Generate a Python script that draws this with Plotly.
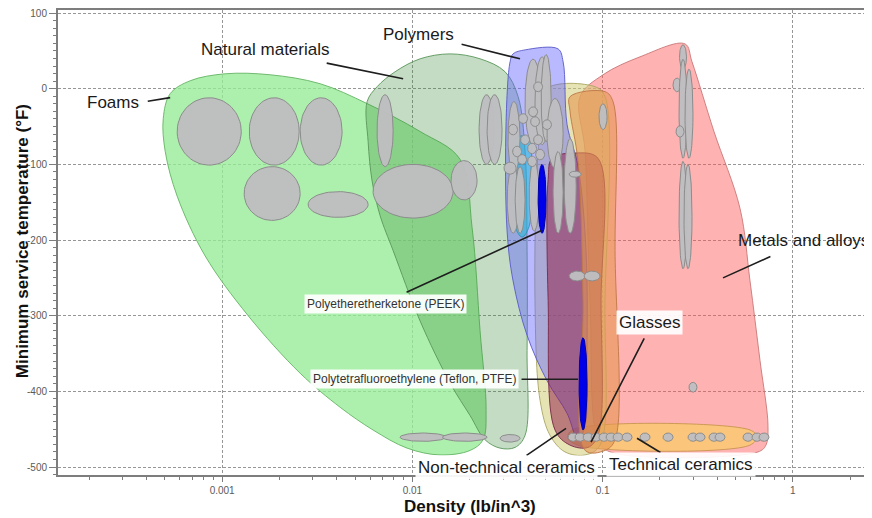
import numpy as np
import plotly.graph_objects as go

# ---------------- DATA (density in lb/in^3, temperature in °F) ----------------
# Family envelopes: outline points (density, min service temperature)
env_foams_d = [4.90e-4, 5.33e-4, 6.79e-4, 1.037e-3, 1.787e-3, 3.27e-3, 5.78e-3, 1.098e-2, 1.781e-2,
               2.06e-2, 2.268e-2, 2.44e-2, 2.352e-2, 2.011e-2, 1.398e-2, 9.38e-3, 6.21e-3, 4.17e-3,
               2.57e-3, 1.37e-3, 8.14e-4, 5.80e-4, 5.02e-4]
env_foams_t = [-39.5, -6.6, 10.5, 19.7, 18.4, 6.6, -19.7, -56.6, -93.4, -184, -320, -425, -464, -478,
               -484, -475, -451, -421, -376, -300, -221, -142, -83]

env_natural_d = [5.85e-3, 6.14e-3, 6.77e-3, 7.92e-3, 1.098e-2, 1.578e-2, 2.011e-2, 2.41e-2, 2.89e-2,
                 3.465e-2, 3.912e-2, 4.007e-2, 4.007e-2, 3.912e-2, 3.594e-2, 3.07e-2, 2.268e-2,
                 1.578e-2, 1.098e-2, 8.11e-3, 6.52e-3, 5.78e-3]
env_natural_t = [-69.7, -122, -168, -214, -307, -389, -432, -464, -475, -474, -458, -346, -214, -83,
                 -10.5, 22.4, 39.5, 46, 39.5, 22.4, 2.6, -17.1]

env_metals_d = [8.09e-2, 7.61e-2, 1.005e-1, 1.572e-1, 2.71e-1, 2.95e-1, 3.849e-1, 5.272e-1, 5.953e-1,
                6.717e-1, 7.399e-1, 7.222e-1, 6.557e-1, 1.094e-1, 9.46e-2, 8.59e-2]
env_metals_t = [-83, -10.5, 18.4, 42.1, 59.2, 35.5, -56.6, -158, -254, -359, -445, -471, -480, -480,
                -464, -280]

env_techcer_d = [6.91e-2, 5.953e-1, 6.478e-1, 5.953e-1, 7.61e-2, 6.58e-2]
env_techcer_t = [-451, -451, -460, -471, -472, -462]

env_nontech_d = [4.58e-2, 4.98e-2, 9.12e-2, 1.029e-1, 1.029e-1, 9.69e-2, 8.09e-2, 6.34e-2, 5.29e-2,
                 4.69e-2, 4.41e-2]
env_nontech_t = [-83, -1.3, 2.6, -10.5, -280, -471, -484, -480, -458, -412, -280]

env_polymers_d = [3.108e-2, 3.262e-2, 3.382e-2, 3.912e-2, 5.831e-2, 6.20e-2, 6.502e-2, 7.424e-2,
                  8.18e-2, 8.279e-2, 8.09e-2, 7.424e-2, 6.502e-2, 5.103e-2, 4.007e-2, 3.382e-2,
                  3.146e-2]
env_polymers_t = [-43.4, 35.5, 46, 51.3, 52.6, 35.5, -47.4, -102.6, -214, -346, -445, -464, -429,
                  -386, -326, -254, -188]

env_elast_d = [3.40e-2, 3.50e-2, 4.10e-2, 4.206e-2, 4.107e-2, 3.771e-2, 3.465e-2]
env_elast_t = [-110, -65, -65, -110, -182, -196, -182]

env_compos_d = [5.17e-2, 5.42e-2, 7.16e-2, 9.46e-2, 9.81e-2, 9.46e-2, 8.38e-2, 6.74e-2, 5.62e-2, 5.17e-2]
env_compos_t = [-120, -92, -85, -92, -280, -458, -474, -471, -451, -280]

env_glass_d = [6.74e-2, 1.029e-1, 1.134e-1, 1.162e-1, 1.162e-1, 1.029e-1, 8.09e-2, 7.89e-2, 7.424e-2, 6.74e-2]
env_glass_t = [-10.5, -3.9, -17, -214, -464, -478, -478, -280, -96, -30]

# Material bubbles: density range and temperature range
bub_dens_lo = [5.8e-4, 1.387e-3, 1.305e-3, 2.57e-3, 2.83e-3, 8.61e-3, 1.44e-2,            # foams
               6.52e-3, 6.21e-3, 1.597e-2, 2.241e-2, 2.47e-2, 2.89e-2,                    # natural
               0.0391, 0.0441, 0.0475, 0.0318, 0.0510, 0.0628, 0.0315, 0.0347, 0.0411,    # polymers
               0.0549, 0.0667, 0.0303, 0.0667, 0.0800,
               0.03617, 0.04082, 0.04182, 0.04829, 0.03202, 0.03705, 0.04337, 0.03362,
               0.04033, 0.04443, 0.03573, 0.04033, 0.04337,
               0.2536, 0.2344, 0.2521, 0.2710, 0.2521, 0.2677, 0.2431, 0.2844, 0.0957,    # metals
               0.0658, 0.0716, 0.0789, 0.0869, 0.0957, 0.1042, 0.1134, 0.1265, 0.1572,    # ceramics
               0.2077, 0.2810, 0.3059, 0.3623, 0.3897, 0.5468, 0.6097, 0.6636]
bub_dens_hi = [1.26e-3, 2.54e-3, 2.57e-3, 4.27e-3, 5.85e-3, 1.50e-2, 2.47e-2,
               7.92e-3, 1.637e-2, 2.188e-2, 2.687e-2, 2.96e-2, 3.68e-2,
               0.0475, 0.0523, 0.0536, 0.0368, 0.0620, 0.0726, 0.0364, 0.0391, 0.0464,
               0.0620, 0.0771, 0.0351, 0.0809, 0.0969,
               0.04033, 0.04552, 0.04663, 0.05385, 0.03570, 0.04131, 0.04836, 0.03749,
               0.04497, 0.04955, 0.03984, 0.04497, 0.04836,
               0.2760, 0.2582, 0.2777, 0.2985, 0.2777, 0.2950, 0.2677, 0.3133, 0.1055,
               0.0743, 0.0808, 0.0890, 0.0981, 0.1080, 0.1176, 0.1280, 0.1428, 0.1774,
               0.2345, 0.3171, 0.3453, 0.4089, 0.4398, 0.6171, 0.6882, 0.7490]
bub_temp_lo = [-101, -101, -174, -101, -170, -466, -466,
               -103, -171, -147, -100, -100, -467,
               -74, -74, -70, -113, -105, -191, -191, -191, -188,
               -191, -117, -113, -254, -254,
               -46, -37, -50, -54, -61, -74, -74, -90, -86, -94, -100, -103, -4,
               26, -4, -92, -92, -238, -238, -64, -401, -54,
               -466, -466, -466, -466, -466, -466, -466, -466, -466,
               -466, -466, -466, -466, -466, -466, -466, -466]
bub_temp_hi = [-12, -12, -103, -12, -136, -455, -455,
               -8, -100, -95, -8, -8, -457,
               39, 42, 45, -17, -13, -66, -103, -103, -96,
               -83, -109, -97, -241, -241,
               -33, -24, -37, -41, -47, -61, -61, -76, -72, -80, -87, -89, 9,
               58, 14, 39, 26, -96, -100, -49, -388, -20,
               -455, -455, -455, -455, -455, -455, -455, -455, -455,
               -455, -455, -455, -455, -455, -455, -455, -455]

# Highlighted materials
hl_names = ["Polyetheretherketone (PEEK)", "Polytetrafluoroethylene (Teflon, PTFE)"]
hl_dens_lo = [0.0458, 0.0752]
hl_dens_hi = [0.0504, 0.0828]
hl_temp_lo = [-191, -451]
hl_temp_hi = [-100, -329]

# Labels: text, label anchor (density, temp), leader tail and head (density, temp)
lab_text = ["Foams", "Natural materials", "Polymers", "Metals and alloys",
            "Polyetheretherketone (PEEK)", "Polytetrafluoroethylene (Teflon, PTFE)",
            "Glasses", "Non-technical ceramics", "Technical ceramics"]
lab_d = [2.67e-4, 1.683e-3, 1.072e-2, 1.144, 7.19e-3, 1.021e-2, 0.1774, 0.03108, 0.2582]
lab_t = [-18.4, 51.3, 71, -201, -284, -383, -309, -501, -497]
lead_d0 = [3.99e-4, 3.48e-3, 1.781e-2, 0.776, 9.15e-3, 0.0368, 0.1670, 0.0391, 0.2051]
lead_t0 = [-17, 34.2, 59.2, -221, -270, -384, -328, -486, -482]
lead_d1 = [5.33e-4, 8.94e-3, 0.0368, 0.4293, 0.04804, 0.07424, 0.0869, 0.0642, 0.1516]
lead_t1 = [-11.8, 13.2, 39.5, -250, -187, -384, -467, -449, -462]

x_tick_vals = [0.001, 0.01, 0.1, 1]
x_tick_text = ["0.001", "0.01", "0.1", "1"]
y_tick_vals = [100, 0, -100, -200, -300, -400, -500]
y_tick_text = ["100", "0", "-100", "-200", "-300", "-400", "-500"]

# ---------------- FIGURE ----------------
FONT = "Liberation Sans, Arial, sans-serif"
fig = go.Figure()


def add_env(d, t, fill, line):
    fig.add_trace(go.Scatter(x=list(d) + [d[0]], y=list(t) + [t[0]], mode="lines",
                             line=dict(color=line, width=1, shape="spline", smoothing=1.0),
                             fill="toself", fillcolor=fill, hoverinfo="skip", showlegend=False))


add_env(env_foams_d, env_foams_t, "rgba(150,236,150,0.78)", "rgba(100,180,100,0.9)")
add_env(env_natural_d, env_natural_t, "rgba(55,138,55,0.30)", "rgba(90,150,90,0.9)")
add_env(env_metals_d, env_metals_t, "rgba(255,84,84,0.45)", "rgba(200,120,120,0.9)")
add_env(env_techcer_d, env_techcer_t, "rgba(250,200,115,0.88)", "rgba(200,150,80,0.9)")
add_env(env_nontech_d, env_nontech_t, "rgba(210,205,120,0.55)", "rgba(170,165,100,0.9)")
add_env(env_polymers_d, env_polymers_t, "rgba(100,100,255,0.45)", "rgba(90,90,200,0.9)")
add_env(env_elast_d, env_elast_t, "rgba(20,190,220,0.5)", "rgba(40,150,180,0.9)")
add_env(env_compos_d, env_compos_t, "rgba(145,30,70,0.52)", "rgba(120,40,70,0.9)")
add_env(env_glass_d, env_glass_t, "rgba(230,150,80,0.6)", "rgba(190,120,70,0.9)")


def ellipse(dlo, dhi, tlo, thi, n=64):
    a, b = np.log10(dlo), np.log10(dhi)
    lc, lw = (a + b) / 2, (b - a) / 2
    tc, th = (tlo + thi) / 2, (thi - tlo) / 2
    ang = np.linspace(0, 2 * np.pi, n)
    return 10 ** (lc + lw * np.cos(ang)), tc + th * np.sin(ang)


for dl, dh, tl, th in zip(bub_dens_lo, bub_dens_hi, bub_temp_lo, bub_temp_hi):
    ex, ey = ellipse(dl, dh, tl, th)
    fig.add_trace(go.Scatter(x=ex, y=ey, mode="lines", line=dict(color="rgb(140,140,140)", width=1),
                             fill="toself", fillcolor="rgba(190,190,192,0.97)",
                             hoverinfo="skip", showlegend=False))

for nm, dl, dh, tl, th in zip(hl_names, hl_dens_lo, hl_dens_hi, hl_temp_lo, hl_temp_hi):
    ex, ey = ellipse(dl, dh, tl, th)
    fig.add_trace(go.Scatter(x=ex, y=ey, mode="lines", line=dict(color="rgb(0,0,170)", width=1),
                             fill="toself", fillcolor="rgb(0,0,235)", name=nm,
                             hoverinfo="skip", showlegend=False))

annotations = []
for i, txt in enumerate(lab_text):
    small = "(" in txt
    boxed = txt in ("Polyetheretherketone (PEEK)", "Polytetrafluoroethylene (Teflon, PTFE)",
                    "Glasses", "Technical ceramics", "Non-technical ceramics")
    annotations.append(dict(x=np.log10(lead_d1[i]), y=lead_t1[i], ax=np.log10(lead_d0[i]), ay=lead_t0[i],
                            axref="x", ayref="y", xref="x", yref="y", text="", showarrow=True,
                            arrowhead=0, arrowwidth=1.6, arrowcolor="#1e1e1e", standoff=0, startstandoff=0))
    annotations.append(dict(x=np.log10(lab_d[i]), y=lab_t[i], xref="x", yref="y", text=txt, showarrow=False,
                            xanchor="center", yanchor="middle",
                            font=dict(family=FONT, size=12 if small else 17, color="#333" if small else "#1a1a1a"),
                            bgcolor="rgba(255,255,255,0.92)" if boxed else None, borderpad=2))

annotations.append(dict(x=-0.0442, y=0.503, xref="paper", yref="paper", text="Minimum service temperature (°F)",
                        textangle=-90, showarrow=False, xanchor="center", yanchor="middle",
                        font=dict(family=FONT, size=17, color="#111", weight="bold")))
annotations.append(dict(x=0.506, y=-0.068, xref="paper", yref="paper", text="Density (lb/in^3)",
                        showarrow=False, xanchor="center", yanchor="middle",
                        font=dict(family=FONT, size=17, color="#111", weight="bold")))

minor_x = [k * 10.0 ** e for e in range(-4, 1) for k in range(2, 10)]
AX = "rgb(125,125,125)"
GRID = "rgb(150,150,150)"
# the page body has an 8px default margin, so the figure is sized to fit the 872x518 window
fig.update_layout(
    width=864, height=510, margin=dict(l=50, r=0, t=0, b=43),
    paper_bgcolor="white", plot_bgcolor="white", showlegend=False,
    annotations=annotations,
    xaxis=dict(type="log", range=[-3.863, 0.416], tickmode="array", tickvals=x_tick_vals,
               ticktext=x_tick_text, showline=True, linecolor=AX, linewidth=2, mirror=True,
               ticks="outside", ticklen=5, tickcolor=AX, tickfont=dict(family=FONT, size=10, color="rgb(90,90,90)"),
               showgrid=True, gridcolor=GRID, griddash="3px,2px", gridwidth=1, zeroline=False,
               ticklabeloverflow="allow",
               minor=dict(tickmode="array", tickvals=minor_x, ticks="outside", ticklen=3,
                          tickcolor=AX, showgrid=False)),
    yaxis=dict(range=[-510.5, 104], tickmode="array", tickvals=y_tick_vals, ticktext=y_tick_text,
               showline=True, linecolor=AX, linewidth=2, ticks="outside", ticklen=7, tickcolor=AX,
               tickfont=dict(family=FONT, size=10, color="rgb(90,90,90)"),
               showgrid=True, gridcolor=GRID, griddash="3px,2px", gridwidth=1, zeroline=False,
               ticklabeloverflow="allow",
               minor=dict(tickmode="linear", tick0=0, dtick=10, ticks="outside", ticklen=3,
                          tickcolor=AX, showgrid=False)),
)

fig.write_html("out.html")
